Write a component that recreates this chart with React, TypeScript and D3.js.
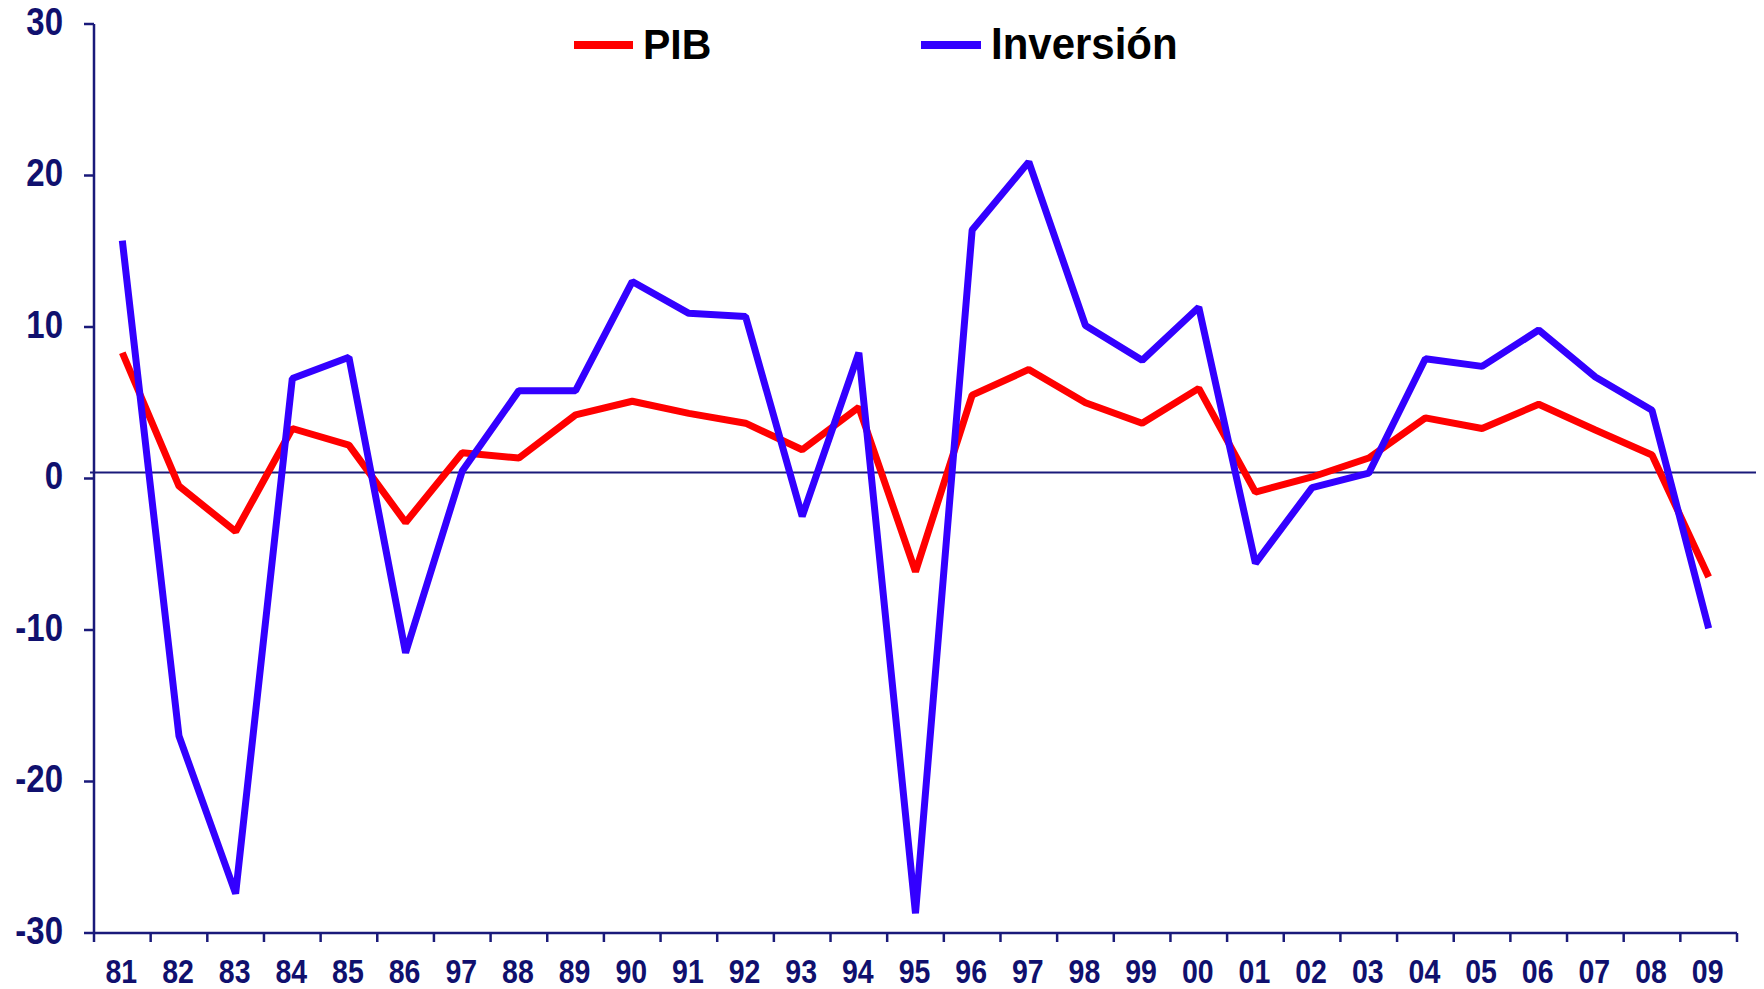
import React from "react";
import * as d3 from "d3";

const categories = ["81","82","83","84","85","86","97","88","89","90","91","92","93","94","95","96","97","98","99","00","01","02","03","04","05","06","07","08","09"];
const pib = [8.3,-0.5,-3.5,3.3,2.2,-2.9,1.7,1.35,4.2,5.1,4.3,3.65,1.9,4.7,-6.15,5.5,7.2,5.0,3.65,5.95,-0.9,0.1,1.35,4.0,3.3,4.9,3.2,1.55,-6.5];
const inversion = [15.7,-17.0,-27.4,6.6,8.0,-11.5,0.5,5.8,5.8,13.0,10.9,10.7,-2.5,8.3,-28.7,16.4,20.9,10.1,7.8,11.3,-5.6,-0.6,0.35,7.9,7.4,9.8,6.7,4.5,-9.9];
const yTicks = [30,20,10,0,-10,-20,-30];
const seriesNames = ["PIB", "Inversión"];
const refValue = 0.4;

const W = 1764, H = 989;
const NAVY = "#1a1a7a";
const TEXT = "#10106e";
const RED = "#ff0000";
const BLUE = "#3300ff";

export default function App() {
  const idx = categories.map((_, i) => String(i));
  const x = d3.scaleBand<string>().domain(idx).range([94, 1737]).padding(0);
  const y = d3.scaleLinear().domain([-30, 30]).range([933, 24]);
  const cx = (i: number) => (x(String(i)) as number) + x.bandwidth() / 2;
  const line = d3.line<number>().x((_, i) => cx(i)).y((d) => y(d));
  const boundaries = d3.range(categories.length + 1).map((i) => 94 + i * x.bandwidth());
  const x0 = 94;
  const yBottom = y(-30);

  return (
    <svg width={W} height={H} style={{ position: "absolute", left: 0, top: 0, background: "#fff" }}
      fontFamily="'Liberation Sans', Arial, sans-serif">
      {/* y axis */}
      <line x1={x0} x2={x0} y1={y(30)} y2={yBottom} stroke={NAVY} strokeWidth={2.5} />
      {yTicks.map((t) => (
        <g key={"yt" + t}>
          <line x1={x0 - 10} x2={x0} y1={y(t)} y2={y(t)} stroke={NAVY} strokeWidth={2.5} />
          <text transform={`translate(63,${y(t) - 2}) scale(1,1.15)`} textAnchor="end" dominantBaseline="central"
            fontSize={33} fontWeight="bold" fill={TEXT}>{t}</text>
        </g>
      ))}
      {/* x axis */}
      <line x1={x0} x2={boundaries[boundaries.length - 1]} y1={yBottom} y2={yBottom} stroke={NAVY} strokeWidth={2.5} />
      {boundaries.map((b, i) => (
        <line key={"xb" + i} x1={b} x2={b} y1={yBottom} y2={yBottom + 9} stroke={NAVY} strokeWidth={2.5} />
      ))}
      {categories.map((c, i) => (
        <text key={"xl" + i} transform={`translate(${cx(i) - 1},983) scale(1,1.15)`} textAnchor="middle"
          fontSize={28.5} fontWeight="bold" fill={TEXT}>{c}</text>
      ))}
      {/* reference line */}
      <line x1={90} x2={1756} y1={y(refValue)} y2={y(refValue)} stroke={NAVY} strokeWidth={2} />
      {/* series */}
      <path d={line(pib) || ""} fill="none" stroke={RED} strokeWidth={7} strokeLinejoin="bevel" />
      <path d={line(inversion) || ""} fill="none" stroke={BLUE} strokeWidth={7} strokeLinejoin="bevel" />
      {/* legend */}
      <line x1={574} x2={633} y1={45} y2={45} stroke={RED} strokeWidth={8} />
      <text transform="translate(643,59) scale(1,1.06)" fontSize={41} fontWeight="bold" fill="#000">{seriesNames[0]}</text>
      <line x1={921} x2={981} y1={45} y2={45} stroke={BLUE} strokeWidth={8} />
      <text transform="translate(991,59) scale(1,1.06)" fontSize={42} fontWeight="bold" fill="#000">{seriesNames[1]}</text>
    </svg>
  );
}
